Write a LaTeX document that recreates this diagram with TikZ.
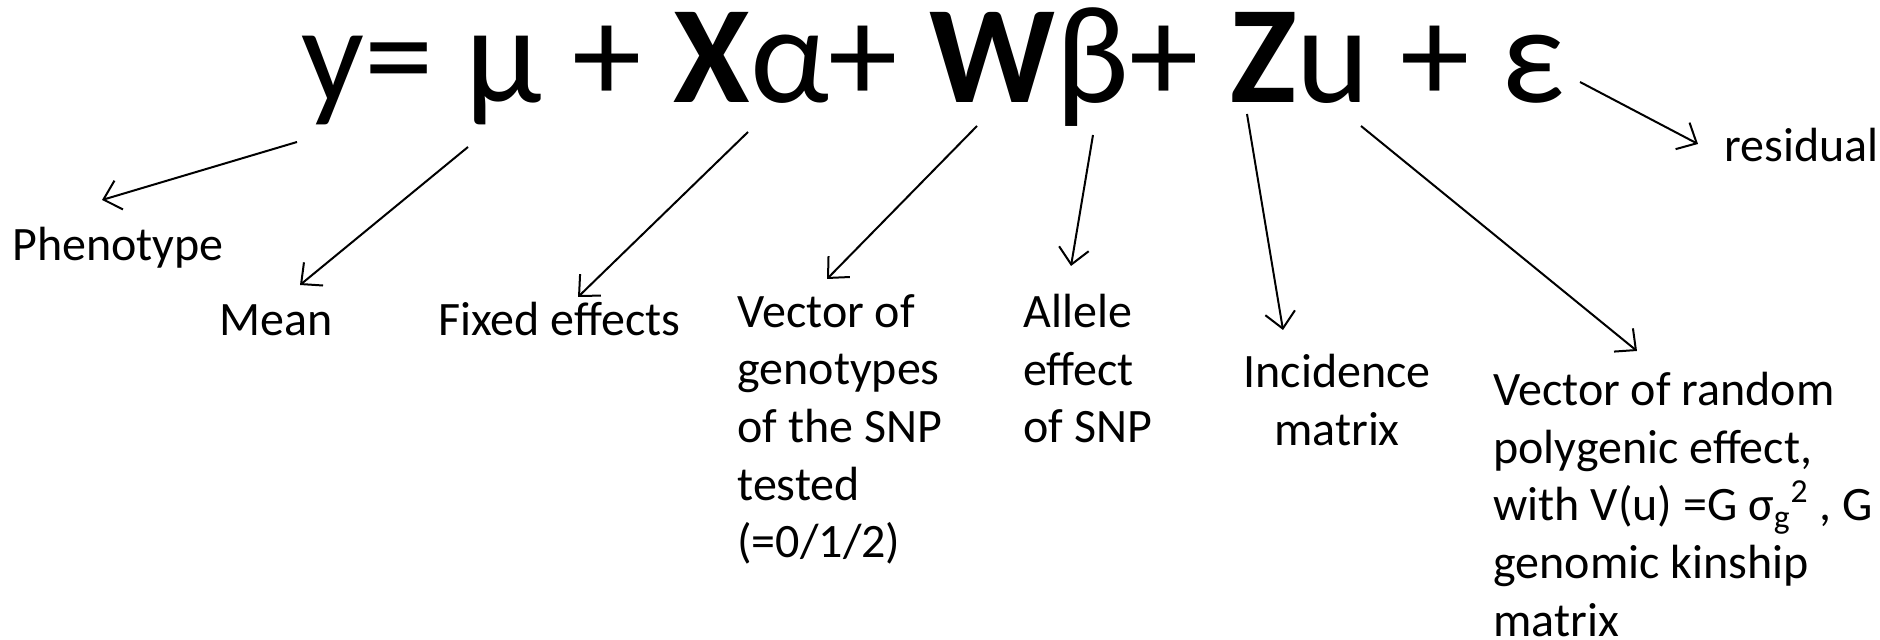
\documentclass[tikz,border=0pt]{standalone}
\usepackage{fontspec}
\setmainfont{Carlito}
\usetikzlibrary{arrows.meta}
\tikzset{
  lbl/.style={inner sep=0pt, font=\fontsize{24}{28.8}\selectfont},
  ptr/.style={line width=1pt, -{Straight Barb[length=8pt,width=15pt,line width=1pt]}}
}
\begin{document}
\begin{tikzpicture}[x=0.5pt,y=-0.5pt]
\useasboundingbox (0,0) rectangle (1880,640);
% equation
\node[inner sep=0pt, anchor=base west, font=\fontsize{69.5}{80}\selectfont] (eq) at (301,103)
  {y= μ + \textbf{X}α+ \textbf{W}β+ \textbf{Z}u + ε};
% start points of connectors
\coordinate (sy) at (297,142);
\coordinate (smu) at (468,147);
\coordinate (salpha) at (748,132);
\coordinate (sw) at (977,126);
\coordinate (sbeta) at (1093,135);
\coordinate (sz) at (1247,114);
\coordinate (su) at (1361,126);
\coordinate (seps) at (1580,82);
% end points
\coordinate (ey) at (102,200);
\coordinate (emu) at (300,285);
\coordinate (ealpha) at (578,297);
\coordinate (ew) at (827,279);
\coordinate (ebeta) at (1071,266);
\coordinate (ez) at (1283,330);
\coordinate (eu) at (1637,351);
\coordinate (eeps) at (1698,144);
% labels
\node[lbl, anchor=base west] (pheno) at (12,261) {Phenotype};
\node[lbl, anchor=base west] (mean) at (219,336) {Mean};
\node[lbl, anchor=base west] (fixed) at (438,336) {Fixed effects};
\node[lbl, anchor=north west, align=left] (geno) at (737,294)
  {Vector of\\genotypes\\of the SNP\\tested\\(=0/1/2)};
\node[lbl, anchor=north west, align=left] (allele) at (1023,294)
  {Allele\\effect\\of SNP};
\node[lbl, anchor=north, align=center] (inc) at (1337,354)
  {Incidence\\matrix};
\node[lbl, anchor=north west, align=left] (rand) at (1493,372)
  {Vector of random\\polygenic effect,\\with V(u) =G σ\textsubscript{g}\smash{\textsuperscript{2}} , G\\genomic kinship\\matrix};
\node[lbl, anchor=base west] (resid) at (1724,162) {residual};
% connectors
\draw[ptr] (sy) -- (ey);
\draw[ptr] (smu) -- (emu);
\draw[ptr] (salpha) -- (ealpha);
\draw[ptr] (sw) -- (ew);
\draw[ptr] (sbeta) -- (ebeta);
\draw[ptr] (sz) -- (ez);
\draw[ptr] (su) -- (eu);
\draw[ptr] (seps) -- (eeps);
\end{tikzpicture}
\end{document}
